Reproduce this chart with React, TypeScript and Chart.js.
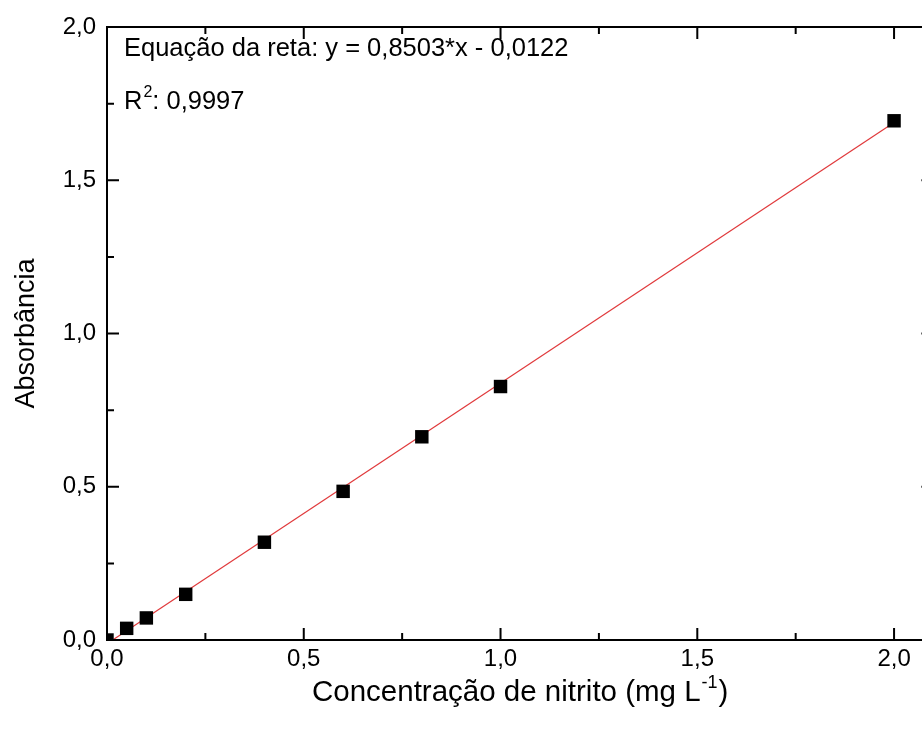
import React, { useEffect, useRef } from "react";
import { Chart, registerables } from "chart.js";

Chart.register(...registerables);

// ---- data ----
const concentrations = [0, 0.05, 0.1, 0.2, 0.4, 0.6, 0.8, 1.0, 2.0];
const absorbances = [0.0, 0.038, 0.072, 0.149, 0.319, 0.485, 0.663, 0.827, 1.694];
const fitX = [0, 2.0];
const fitY = [-0.0122, 1.6884];
const xMajorTicks = [0, 0.5, 1.0, 1.5, 2.0];
const xMinorTicks = [0.25, 0.75, 1.25, 1.75];
const yMajorTicks = [0, 0.5, 1.0, 1.5, 2.0];
const yMinorTicks = [0.25, 0.75, 1.25, 1.75];
const xFrameMax = 2.1;
const xVisibleMax = 2.071;
const equationText = "Equação da reta: y = 0,8503*x - 0,0122";
const r2Label = "R";
const r2Sup = "2";
const r2Value = ": 0,9997";
const xTitleMain = "Concentração de nitrito (mg L";
const xTitleSup = "-1";
const xTitleEnd = ")";
const yTitle = "Absorbância";

const FONT = "'Liberation Sans', Arial, sans-serif";
const fmt = (v: number) => v.toFixed(1).replace(".", ",");

const framePlugin = {
  id: "originFrame",
  afterDatasetsDraw(chart: any) {
    const { ctx } = chart;
    const xs = chart.scales.x;
    const ys = chart.scales.y;
    const left = xs.getPixelForValue(0);
    const right = xs.getPixelForValue(xFrameMax);
    const top = ys.getPixelForValue(2.0);
    const bottom = ys.getPixelForValue(0);
    ctx.save();
    ctx.strokeStyle = "#000";
    ctx.lineWidth = 2;
    ctx.beginPath();
    ctx.rect(left, top, right - left, bottom - top);
    ctx.stroke();
    const major = 12;
    const minor = 7;
    ctx.beginPath();
    const xt = (v: number, len: number) => {
      const p = xs.getPixelForValue(v);
      ctx.moveTo(p, bottom);
      ctx.lineTo(p, bottom - len);
      ctx.moveTo(p, top);
      ctx.lineTo(p, top + len);
    };
    const yt = (v: number, len: number) => {
      const p = ys.getPixelForValue(v);
      ctx.moveTo(left, p);
      ctx.lineTo(left + len, p);
      ctx.moveTo(right, p);
      ctx.lineTo(right - len, p);
    };
    xMajorTicks.forEach((v) => xt(v, major));
    xMinorTicks.forEach((v) => xt(v, minor));
    yMajorTicks.forEach((v) => yt(v, major));
    yMinorTicks.forEach((v) => yt(v, minor));
    ctx.stroke();

    // annotation text
    ctx.fillStyle = "#000";
    ctx.textBaseline = "alphabetic";
    ctx.textAlign = "left";
    const big = 25.5;
    const small = 16;
    ctx.font = `${big}px ${FONT}`;
    const tx = left + 17;
    ctx.fillText(equationText, tx, 56);
    ctx.fillText(r2Label, tx, 109);
    const w = ctx.measureText(r2Label).width;
    ctx.font = `${small}px ${FONT}`;
    ctx.fillText(r2Sup, tx + w + 1, 97);
    const ws = ctx.measureText(r2Sup).width;
    ctx.font = `${big}px ${FONT}`;
    ctx.fillText(r2Value, tx + w + ws + 1, 109);

    // x title with superscript
    const tBig = 29.5;
    const tSmall = 18;
    ctx.font = `${tBig}px ${FONT}`;
    const w1 = ctx.measureText(xTitleMain).width;
    const w3 = ctx.measureText(xTitleEnd).width;
    ctx.font = `${tSmall}px ${FONT}`;
    const w2 = ctx.measureText(xTitleSup).width;
    const total = w1 + w2 + w3 + 2;
    const cx = (left + right) / 2;
    const x0 = cx - total / 2;
    const by = 701;
    ctx.font = `${tBig}px ${FONT}`;
    ctx.fillText(xTitleMain, x0, by);
    ctx.font = `${tSmall}px ${FONT}`;
    ctx.fillText(xTitleSup, x0 + w1 + 1, by - 13);
    ctx.font = `${tBig}px ${FONT}`;
    ctx.fillText(xTitleEnd, x0 + w1 + w2 + 2, by);
    ctx.restore();
  },
};

export default function App() {
  const ref = useRef<HTMLCanvasElement | null>(null);
  useEffect(() => {
    if (!ref.current) return;
    const chart = new Chart(ref.current, {
      type: "scatter",
      data: {
        datasets: [
          {
            type: "line",
            label: "Ajuste linear",
            data: fitX.map((x, i) => ({ x, y: fitY[i] })),
            borderColor: "#e0393b",
            borderWidth: 1.2,
            pointRadius: 0,
            fill: false,
            clip: 0,
            order: 2,
          },
          {
            label: "Absorbância",
            data: concentrations.map((x, i) => ({ x, y: absorbances[i] })),
            pointStyle: "rect",
            pointRadius: 9.5,
            pointBackgroundColor: "#000",
            pointBorderColor: "#000",
            pointBorderWidth: 0,
            clip: 0,
            order: 1,
          },
        ],
      },
      options: {
        animation: false,
        responsive: false,
        maintainAspectRatio: false,
        layout: { autoPadding: false, padding: { top: 27, left: 0, right: 0, bottom: 0 } },
        plugins: {
          legend: { display: false },
          tooltip: { enabled: false },
        },
        scales: {
          x: {
            type: "linear",
            min: 0,
            max: xVisibleMax,
            afterBuildTicks: (s: any) => {
              s.ticks = xMajorTicks.map((v) => ({ value: v }));
            },
            afterFit: (s: any) => {
              s.height = 95;
              s.paddingLeft = 0;
              s.paddingRight = 0;
            },
            grid: { display: false, drawTicks: false },
            border: { display: false },
            ticks: {
              callback: (v: any) => fmt(Number(v)),
              font: { family: FONT, size: 24 },
              color: "#000",
              padding: 5,
              maxRotation: 0,
              autoSkip: false,
            },
          },
          y: {
            type: "linear",
            min: 0,
            max: 2.0,
            afterBuildTicks: (s: any) => {
              s.ticks = yMajorTicks.map((v) => ({ value: v }));
            },
            afterFit: (s: any) => {
              s.width = 107;
              s.paddingTop = 0;
              s.paddingBottom = 0;
            },
            grid: { display: false, drawTicks: false },
            border: { display: false },
            title: {
              display: true,
              text: yTitle,
              font: { family: FONT, size: 27 },
              color: "#000",
              padding: { top: 10, bottom: 0 },
            },
            ticks: {
              callback: (v: any) => fmt(Number(v)),
              font: { family: FONT, size: 24 },
              color: "#000",
              padding: 11,
            },
          },
        },
      },
      plugins: [framePlugin],
    });
    return () => chart.destroy();
  }, []);
  return (
    <div style={{ position: "fixed", left: 0, top: 0, width: 922, height: 735, background: "#fff" }}>
      <canvas ref={ref} width={922} height={735} style={{ display: "block", width: 922, height: 735 }} />
    </div>
  );
}
